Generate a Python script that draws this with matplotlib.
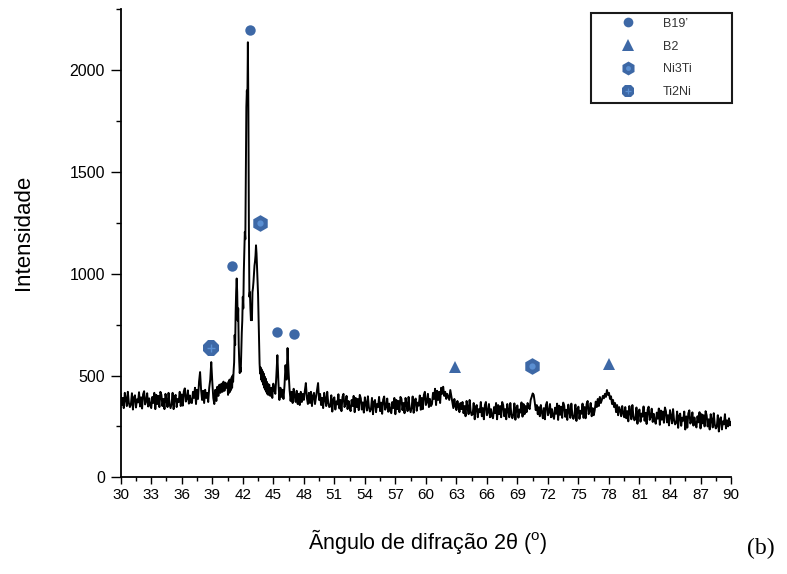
import numpy as np
import matplotlib
matplotlib.use("Agg")
import matplotlib.pyplot as plt
from matplotlib.ticker import FixedLocator, MultipleLocator
from matplotlib.lines import Line2D

# ---------------- data ----------------
# diffractogram, read in three segments (start angle, step, intensities)
seg_a_start, seg_a_step = 30.0, 0.1
seg_a_intensity = [
    410, 355, 390, 340, 415, 385, 350, 420, 365, 345,
    358, 413, 333, 393, 403, 343, 383, 368, 418, 348,
    393, 338, 408, 423, 358, 373, 413, 348, 388, 353,
    340, 395, 365, 415, 335, 405, 360, 400, 345, 420,
    405, 350, 385, 335, 410, 380, 345, 415, 360, 340,
    360, 415, 335, 395, 405, 345, 385, 370, 420, 350,
    407, 352, 422, 437, 372, 387, 427, 362, 402, 367,
    365, 420, 390, 440, 360, 430, 385, 470, 517, 430,
    380, 425, 365, 430, 390, 415, 370, 440, 480, 566,
    470, 390, 360, 430, 375, 445, 400, 455, 415, 460,
    420, 470, 425, 465, 440,
]
seg_b_start, seg_b_step = 40.5, 0.05
seg_b_intensity = [
    455, 405, 470, 415, 480, 420, 465, 430, 490, 440,
    500, 470, 525, 565, 699, 650, 815, 915, 977, 910,
    770, 830, 650, 570, 512, 540, 518, 610, 710, 770,
    887, 830, 1010, 1100, 1206, 1170, 1480, 1819, 1901, 1840,
    2138, 1800, 1220, 887, 910, 830, 772, 810, 772, 910,
    930, 960, 1000, 1040, 1060, 1090, 1140, 1100, 1034, 980,
    900, 780, 641, 560, 510, 540, 480, 530, 470, 520,
    455, 510, 440, 495, 430, 485, 420, 470, 410, 460,
    405,
]
seg_c_start, seg_c_step = 44.6, 0.1
seg_c_intensity = [
    455, 400, 440, 390, 460, 430, 410, 500, 600, 470,
    380, 440, 395, 430, 385, 450, 551, 480, 635, 520,
    430, 375, 420, 365, 435, 400, 370, 425, 360, 410,
    355, 420, 370, 410, 380, 425, 463, 390, 360, 415,
    365, 420, 350, 400, 415, 360, 395, 430, 463, 380,
    410, 355, 390, 340, 415, 385, 350, 420, 365, 345,
    348, 403, 323, 383, 393, 333, 373, 358, 408, 338,
    380, 325, 395, 410, 345, 360, 400, 335, 375, 340,
    325, 380, 350, 400, 320, 390, 345, 385, 330, 405,
    388, 333, 368, 318, 393, 363, 328, 398, 343, 323,
    335, 390, 310, 370, 380, 320, 360, 345, 395, 325,
    367, 312, 382, 397, 332, 347, 387, 322, 362, 327,
    315, 370, 340, 390, 310, 380, 335, 375, 320, 395,
    385, 330, 365, 315, 390, 360, 325, 395, 340, 320,
    342, 397, 317, 377, 387, 327, 367, 352, 402, 332,
    390, 335, 405, 420, 355, 370, 410, 345, 385, 350,
    360, 415, 385, 435, 355, 425, 380, 420, 365, 440,
    410, 445, 400, 420, 385, 410, 395, 380, 429, 400,
    370, 340, 385, 350, 330, 375, 345, 320, 365, 335,
    370, 315, 350, 300, 375, 345, 310, 380, 325, 305,
    310, 365, 285, 345, 355, 295, 335, 320, 370, 300,
    340, 285, 355, 370, 305, 320, 360, 295, 335, 300,
    290, 345, 315, 365, 285, 355, 310, 350, 295, 370,
    355, 300, 335, 285, 360, 330, 295, 365, 310, 290,
    308, 363, 283, 343, 353, 293, 333, 318, 368, 298,
    360, 310, 350, 320, 365, 345, 335, 380, 395, 412,
    405, 370, 330, 355, 310, 345, 300, 355, 320, 290,
    340, 285, 355, 370, 305, 320, 360, 295, 335, 300,
    287, 342, 312, 362, 282, 352, 307, 347, 292, 367,
    352, 297, 332, 282, 357, 327, 292, 362, 307, 287,
    302, 357, 277, 337, 347, 287, 327, 312, 362, 292,
    345, 290, 360, 375, 310, 325, 365, 300, 340, 305,
    330, 372, 345, 385, 350, 395, 365, 380, 400, 388,
    410, 395, 429, 405, 415, 385, 398, 360, 380, 345,
    365, 320, 355, 305, 345, 330, 300, 350, 315, 295,
    345, 290, 325, 275, 350, 320, 285, 355, 300, 280,
    288, 343, 263, 323, 333, 273, 313, 298, 348, 278,
    317, 262, 332, 347, 282, 297, 337, 272, 312, 277,
    263, 318, 288, 338, 258, 328, 283, 323, 268, 343,
    325, 270, 305, 255, 330, 300, 265, 335, 280, 260,
    268, 323, 243, 303, 313, 253, 293, 278, 323, 235,
    299, 244, 314, 329, 264, 279, 319, 254, 294, 259,
    245, 300, 270, 320, 240, 310, 265, 305, 250, 325,
    305, 250, 285, 235, 310, 280, 245, 315, 260, 240,
    250, 305, 225, 285, 295, 235, 275, 260, 310, 240,
    280, 250, 290, 255, 270,
]

# phase identification markers
b19_angle = [40.97, 42.71, 45.40, 47.04]
b19_intensity = [1037, 2199, 712, 703]
b2_angle = [62.87, 78.04]
b2_intensity = [540, 556]
ni3ti_angle = [43.69, 70.41]
ni3ti_intensity = [1250, 546]
ti2ni_angle = [38.85]
ti2ni_intensity = [633]

phase_labels = ["B19\u2019", "B2", "Ni3Ti", "Ti2Ni"]
x_ticks = list(range(30, 91, 3))
y_ticks = [0, 500, 1000, 1500, 2000]
y_minor_ticks = [250, 750, 1250, 1750, 2300]
x_label = "\u00c3ngulo de difra\u00e7\u00e3o 2\u03b8 ($^{\\mathrm{o}}$)"
y_label = "Intensidade"
panel_tag = "(b)"

# ---------------- styling ----------------
plt.rcParams["font.family"] = ["Liberation Sans", "DejaVu Sans"]
plt.rcParams["mathtext.fontset"] = "custom"
plt.rcParams["mathtext.rm"] = "Liberation Sans"
plt.rcParams["mathtext.it"] = "Liberation Sans:italic"
plt.rcParams["mathtext.bf"] = "Liberation Sans:bold"

blue = "#3d68a6"
blue_light = "#5a8fd2"


def seg_angles(start, step, values):
    return start + step * np.arange(len(values))


angle = np.concatenate([
    seg_angles(seg_a_start, seg_a_step, seg_a_intensity),
    seg_angles(seg_b_start, seg_b_step, seg_b_intensity),
    seg_angles(seg_c_start, seg_c_step, seg_c_intensity),
])
intensity = np.concatenate([seg_a_intensity, seg_b_intensity, seg_c_intensity])

fig = plt.figure(figsize=(7.87, 5.74), dpi=100)
ax = fig.add_axes([0.1534, 0.1685, 0.7755, 0.8153])

ax.plot(angle, intensity, color="black", lw=1.4, zorder=2)

mk = dict(linestyle="none", color=blue, markeredgewidth=0, zorder=3)
ax.plot(b19_angle, b19_intensity, marker="o", markersize=7.5, **mk)
ax.plot(b2_angle, b2_intensity, marker="^", markersize=8.5, **mk)
ax.plot(ni3ti_angle, ni3ti_intensity, marker="h", markersize=12, **mk)
ax.plot(ni3ti_angle, ni3ti_intensity, linestyle="none", marker="o",
        markersize=4.5, color=blue_light, markeredgewidth=0, zorder=4)
ax.plot(ti2ni_angle, ti2ni_intensity, marker="8", markersize=12, **mk)
ax.plot(ti2ni_angle, ti2ni_intensity, linestyle="none", marker="+",
        markersize=6, color=blue_light, markeredgewidth=1.0, zorder=4)

ax.set_xlim(30, 90)
ax.set_ylim(0, 2300)
ax.xaxis.set_major_locator(FixedLocator(x_ticks))
ax.xaxis.set_minor_locator(MultipleLocator(1.5))
ax.yaxis.set_major_locator(FixedLocator(y_ticks))
ax.yaxis.set_minor_locator(FixedLocator(y_minor_ticks))

for s in ("top", "right"):
    ax.spines[s].set_visible(False)
for s in ("left", "bottom"):
    ax.spines[s].set_linewidth(1.3)

ax.tick_params(axis="x", which="major", direction="out", length=5, width=1,
               pad=3, labelsize=11)
ax.tick_params(axis="x", which="minor", direction="out", length=3, width=1)
ax.tick_params(axis="y", which="major", direction="out", length=7.5, width=1,
               pad=4, labelsize=11.5)
ax.tick_params(axis="y", which="minor", direction="out", length=3.5, width=1)

ax.set_xlabel(x_label, fontsize=15.5)
ax.xaxis.label.set_va("center")
ax.xaxis.set_label_coords(427.5 / 787, 1 - 541 / 574, transform=fig.transFigure)
ax.set_ylabel(y_label, fontsize=16)
ax.yaxis.label.set(rotation_mode="default", va="center", ha="center")
ax.yaxis.set_label_coords(23.5 / 787, 1 - 232.5 / 574, transform=fig.transFigure)

fig.text(761 / 787, 1 - 548 / 574, panel_tag, fontsize=17,
         family=["Liberation Serif", "DejaVu Serif"], ha="center", va="center")

# legend
h_b19 = Line2D([], [], linestyle="none", marker="o", markersize=7, color=blue, markeredgewidth=0)
h_b2 = Line2D([], [], linestyle="none", marker="^", markersize=8, color=blue, markeredgewidth=0)
h_hex = Line2D([], [], linestyle="none", marker="h", markersize=10, color=blue, markeredgewidth=0)
h_hex_in = Line2D([], [], linestyle="none", marker="o", markersize=3.5, color=blue_light, markeredgewidth=0)
h_oct = Line2D([], [], linestyle="none", marker="8", markersize=10, color=blue, markeredgewidth=0)
h_plus = Line2D([], [], linestyle="none", marker="+", markersize=5, color=blue_light, markeredgewidth=0.9)

leg = ax.legend([h_b19, h_b2, (h_hex, h_hex_in), (h_oct, h_plus)], phase_labels,
                loc="upper left", bbox_to_anchor=(0.7706, 0.0, 0.231, 0.9915),
                mode="expand", borderaxespad=0, fontsize=9, frameon=True,
                fancybox=False, shadow=False, framealpha=1,
                borderpad=0.35, labelspacing=0.87, handlelength=5.17,
                handletextpad=0.24, labelcolor="#333333")
leg.get_frame().set_edgecolor("#1a1a1a")
leg.get_frame().set_linewidth(1.5)

fig.savefig("out.png", dpi=100)
